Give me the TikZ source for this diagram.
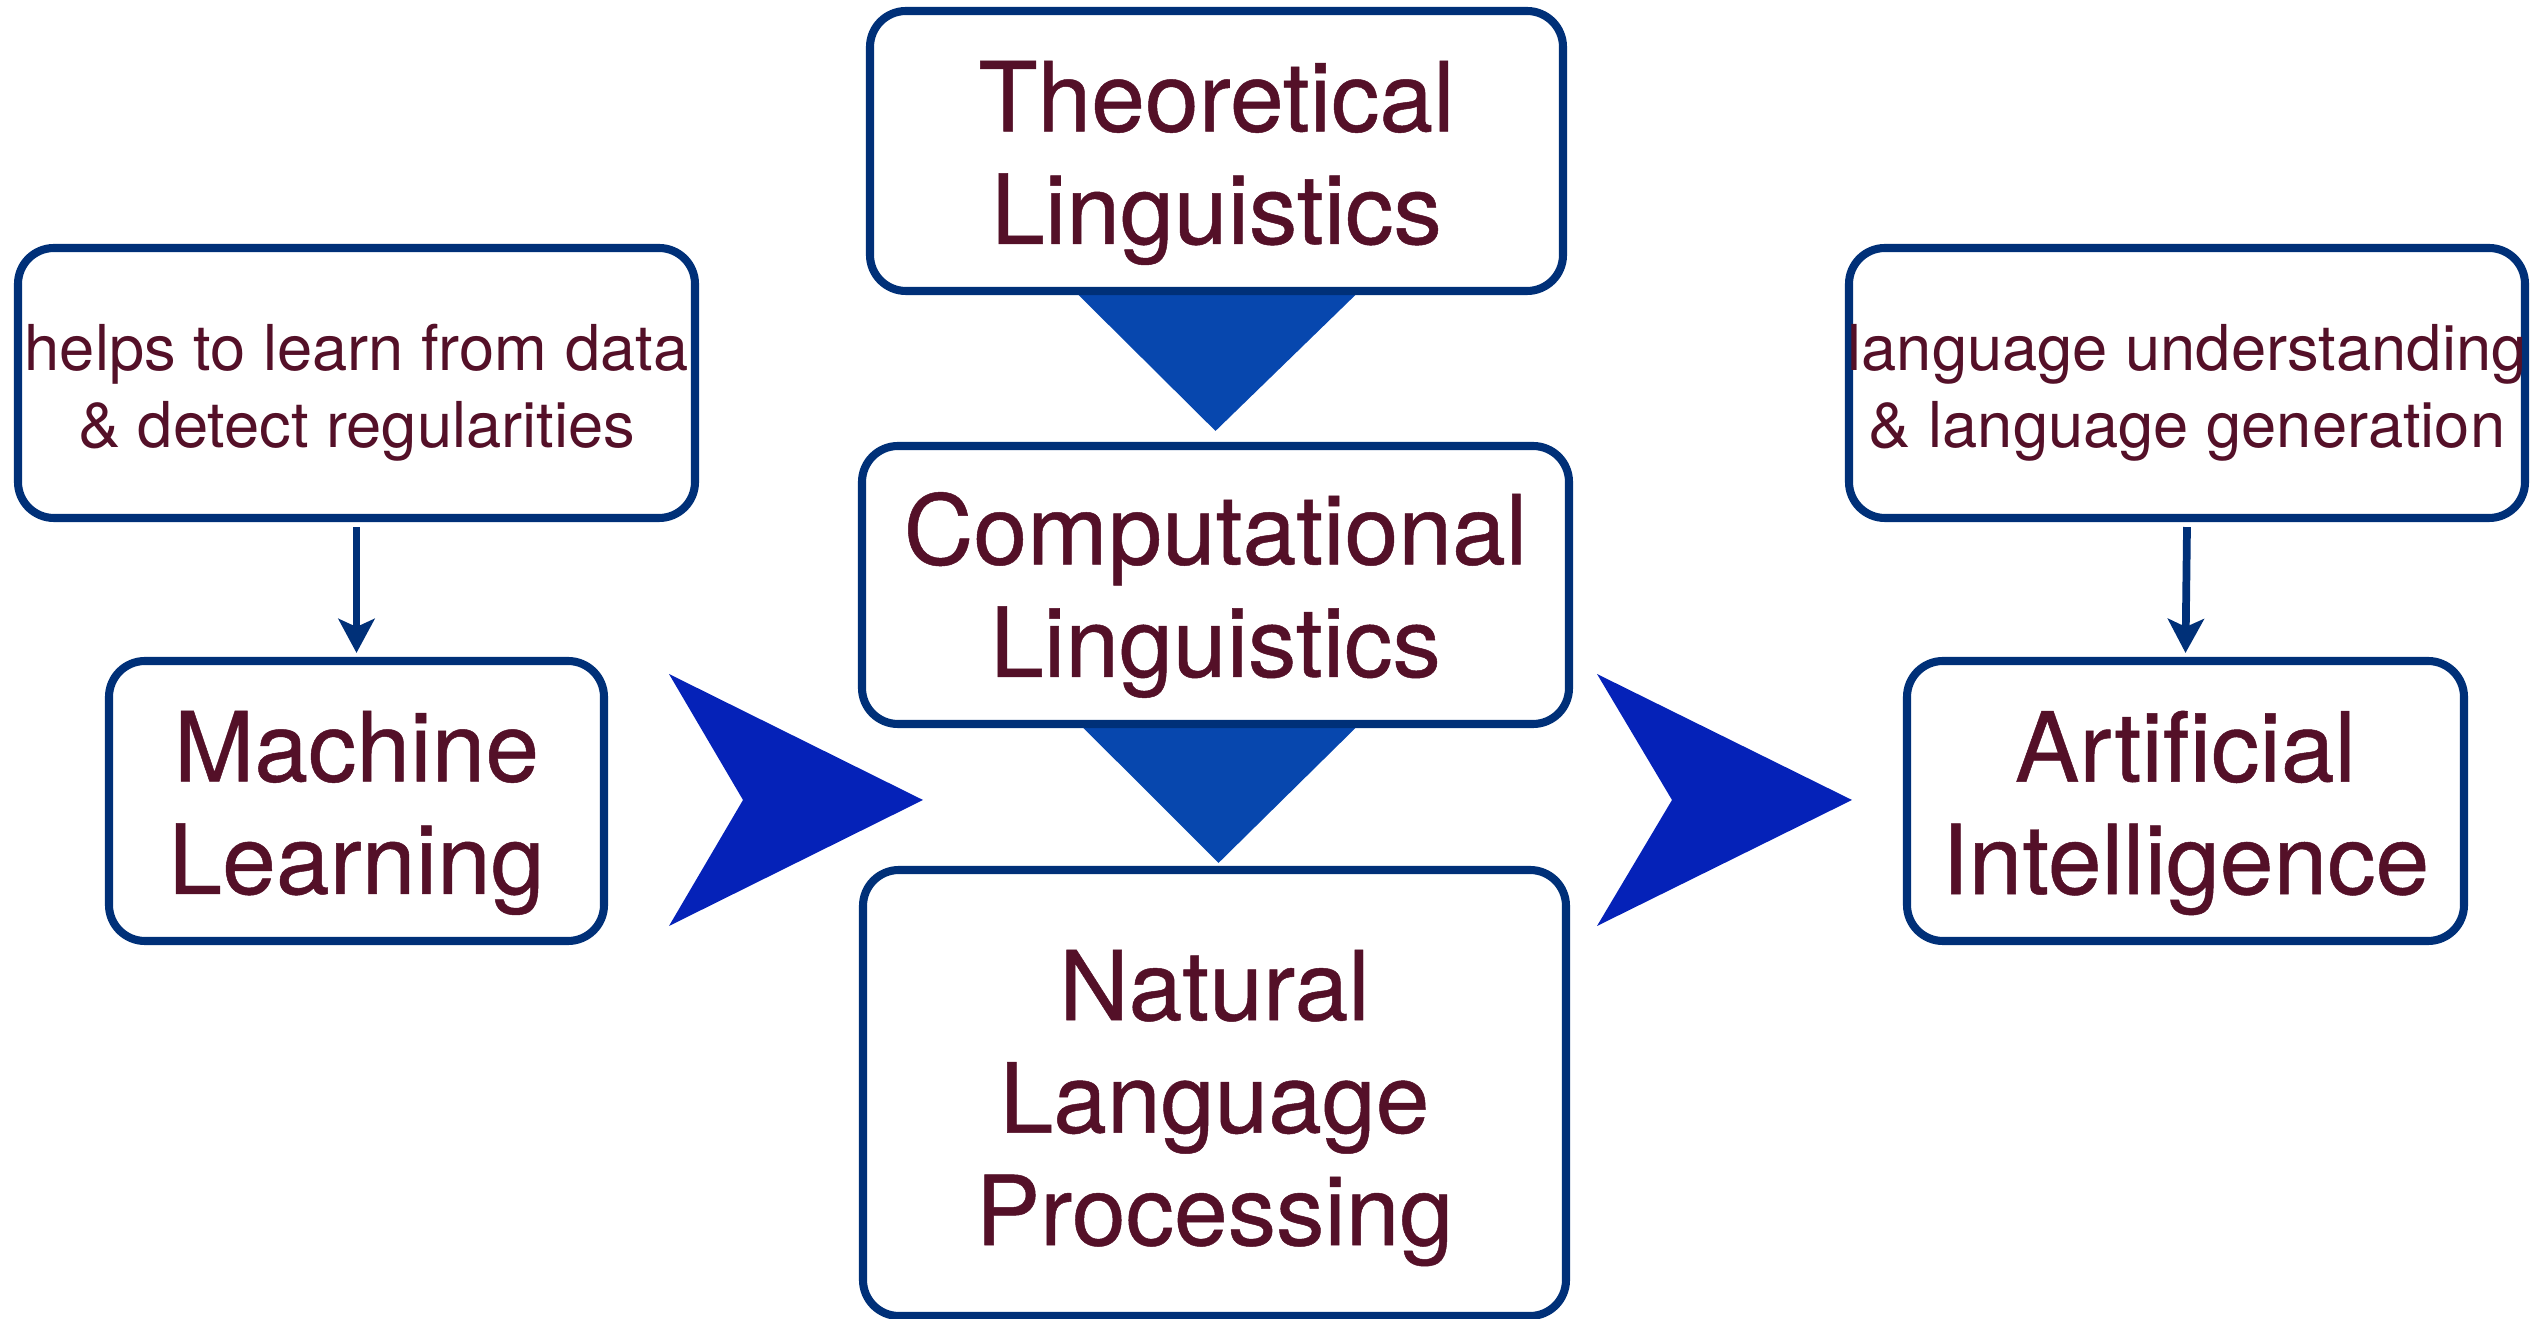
\documentclass[tikz,border=0pt]{standalone}
\usepackage{fontspec}
\setmainfont{TeX Gyre Heros}
\newfontfamily\heavyheros[FakeBold=0.5]{TeX Gyre Heros}
\usetikzlibrary{arrows.meta,calc,backgrounds}
\definecolor{frameblue}{RGB}{0,48,120}
\definecolor{funnelblue}{RGB}{7,71,174}
\definecolor{chevblue}{RGB}{5,34,184}
\definecolor{textred}{RGB}{84,16,40}
\tikzset{
  box/.style={draw=frameblue, line width=2.3pt, rounded corners=0.36cm, fill=white,
    inner sep=0pt},
  label text/.style={align=center, text=textred, inner sep=0pt},
  bigtext/.style={label text, font=\heavyheros\fontsize{27.5}{32}\selectfont},
  smalltext/.style={label text, font=\fontsize{18}{21.9}\selectfont},
  feed/.style={draw=frameblue, line width=2.2pt,
    -{Stealth[length=0.34cm, width=0.36cm, inset=0.08cm]}},
  funnel/.style={fill=funnelblue},
  chevron/.style={fill=chevblue}
}
\begin{document}
\begin{tikzpicture}
\useasboundingbox (0,0) rectangle (25.45,13.19);

% left column
\node[box, minimum width=6.77cm, minimum height=2.70cm] (learn) at (3.565,9.36) {};
\node[smalltext] (learnText) at ($(learn)+(0,-0.1)$)
  {helps to learn from data\\\& detect regularities};
\node[box, minimum width=4.95cm, minimum height=2.80cm] (ml) at (3.565,5.18) {};
\node[bigtext] (mlText) at ($(ml)+(0,-0.12)$) {Machine\\Learning};

% central column
\node[box, minimum width=6.93cm, minimum height=2.80cm] (theo) at (12.165,11.68) {};
\node[bigtext] (theoText) at ($(theo)+(0,-0.12)$) {Theoretical\\Linguistics};
\node[box, minimum width=7.07cm, minimum height=2.78cm] (comp) at (12.155,7.34) {};
\node[bigtext] (compText) at ($(comp)+(0,-0.1)$) {Computational\\Linguistics};
\node[box, minimum width=7.03cm, minimum height=4.46cm] (nlp) at (12.145,2.26) {};
\node[bigtext] (nlpText) at ($(nlp)+(0,-0.15)$) {Natural\\Language\\Processing};

% right column
\node[box, minimum width=6.76cm, minimum height=2.70cm] (gen) at (21.87,9.36) {};
\node[smalltext] (genText) at ($(gen)+(0,-0.1)$)
  {language understanding\\\& language generation};
\node[box, minimum width=5.57cm, minimum height=2.80cm] (ai) at (21.855,5.18) {};
\node[bigtext] (aiText) at ($(ai)+(0,-0.12)$) {Artificial\\Intelligence};

% feeding arrows
\draw[feed] ($(learn.south)+(0,-0.05)$) -- ($(ml.north)+(0,0.04)$);
\draw[feed] ($(gen.south)+(0,-0.05)$) -- ($(ai.north)+(0,0.04)$);

% funnels between the linguistics boxes
\begin{scope}[on background layer]
  \fill[funnel] ($(theo.south)+(-1.43,0.05)$) -- ($(theo.south)+(1.44,0.05)$)
    -- ($(comp.north)+(0,0.11)$) -- cycle;
  \fill[funnel] ($(comp.south)+(-1.37,0.05)$) -- ($(comp.south)+(1.45,0.05)$)
    -- ($(nlp.north)+(0.04,0.03)$) -- cycle;
\end{scope}

% chevrons
\coordinate (chevL) at (6.69,5.19);
\fill[chevron] (chevL) ++(0,1.26) -- ++(2.54,-1.26) -- ++(-2.54,-1.26)
  -- ++(0.74,1.26) -- cycle;
\coordinate (chevR) at (15.97,5.19);
\fill[chevron] (chevR) ++(0,1.26) -- ++(2.55,-1.26) -- ++(-2.55,-1.26)
  -- ++(0.75,1.26) -- cycle;
\end{tikzpicture}
\end{document}
